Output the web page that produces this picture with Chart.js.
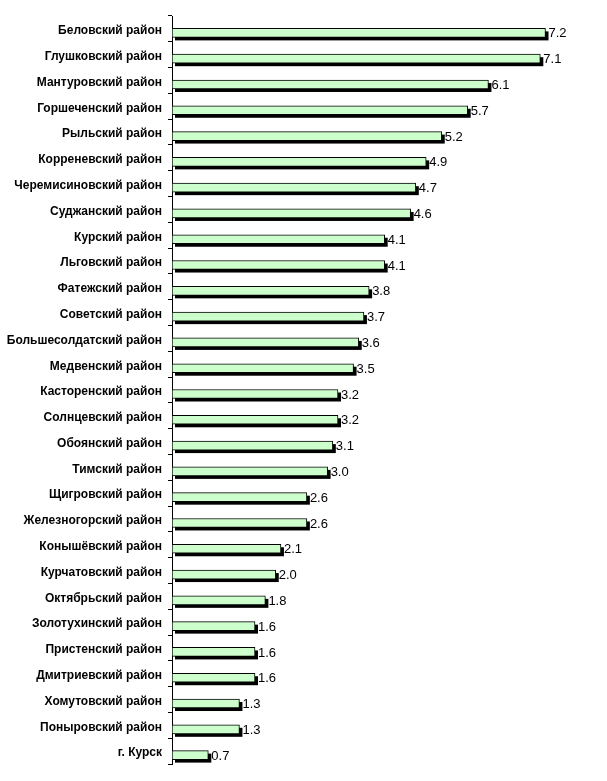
<!DOCTYPE html>
<html>
<head>
<meta charset="utf-8">
<script src="https://cdn.jsdelivr.net/npm/chart.js@4/dist/chart.umd.min.js"></script>
<style>
  body { margin: 0; background: #fff; }
  #wrap { width: 607px; height: 781px; }
</style>
</head>
<body>
<div id="wrap"><canvas id="myChart"></canvas></div>
<script>
const districts = [
  "Беловский район", "Глушковский район", "Мантуровский район", "Горшеченский район",
  "Рыльский район", "Корреневский район", "Черемисиновский район", "Суджанский район",
  "Курский район", "Льговский район", "Фатежский район", "Советский район",
  "Большесолдатский район", "Медвенский район", "Касторенский район", "Солнцевский район",
  "Обоянский район", "Тимский район", "Щигровский район", "Железногорский район",
  "Конышёвский район", "Курчатовский район", "Октябрьский район", "Золотухинский район",
  "Пристенский район", "Дмитриевский район", "Хомутовский район", "Поныровский район",
  "г. Курск"
];
const values = [
  7.2, 7.1, 6.1, 5.7, 5.2, 4.9, 4.7, 4.6, 4.1, 4.1, 3.8, 3.7, 3.6, 3.5, 3.2,
  3.2, 3.1, 3.0, 2.6, 2.6, 2.1, 2.0, 1.8, 1.6, 1.6, 1.6, 1.3, 1.3, 0.7
];

const SHIFT = 4; // bars sit a little below the band centre

// black drop shadow under the bars + value labels
const shadowPlugin = {
  id: "barShadow",
  beforeDatasetsDraw(chart) {
    const ctx = chart.ctx;
    const meta = chart.getDatasetMeta(0);
    ctx.save();
    ctx.fillStyle = "#000";
    meta.data.forEach((bar) => {
      const h = bar.height;
      ctx.fillRect(bar.base + 3, bar.y - h / 2 + SHIFT + 3, bar.x - bar.base, h);
    });
    ctx.restore();
    ctx.save();
    ctx.translate(0, SHIFT);
  },
  afterDatasetsDraw(chart) {
    const ctx = chart.ctx;
    ctx.restore();
    const meta = chart.getDatasetMeta(0);
    ctx.save();
    ctx.font = "13px 'Liberation Sans', Arial, sans-serif";
    ctx.fillStyle = "#000";
    ctx.textAlign = "left";
    ctx.textBaseline = "middle";
    meta.data.forEach((bar, i) => {
      ctx.fillText(values[i].toFixed(1), bar.x + 3, bar.y + SHIFT + 1);
    });
    ctx.restore();
  }
};

var ctx = document.getElementById("myChart").getContext("2d");
var myChart = new Chart(ctx, {
  type: "bar",
  data: {
    labels: districts,
    datasets: [
      {
        data: values,
        backgroundColor: "#ccffcc",
        borderColor: "#000",
        borderWidth: 1,
        borderSkipped: false,
        barThickness: 9,
      },
    ],
  },
  options: {
    indexAxis: "y",
    responsive: true,
    maintainAspectRatio: false,
    animation: false,
    layout: { padding: { top: 16, bottom: 17, right: 20, left: 0 } },
    plugins: {
      legend: { display: false },
      tooltip: { enabled: false },
    },
    scales: {
      x: {
        display: false,
        min: 0,
        max: 8,
      },
      y: {
        offset: true,
        afterFit(scale) { scale.width = 172; },
        border: { display: true, color: "#000", width: 1 },
        grid: {
          offset: true,
          drawOnChartArea: false,
          drawTicks: true,
          tickLength: 4,
          color: "#000",
        },
        ticks: {
          color: "#000",
          padding: 6,
          labelOffset: 2,
          autoSkip: false,
          font: { family: "'Liberation Sans', Arial, sans-serif", size: 12, weight: "bold" },
        },
      },
    },
  },
  plugins: [shadowPlugin],
});
</script>
</body>
</html>
